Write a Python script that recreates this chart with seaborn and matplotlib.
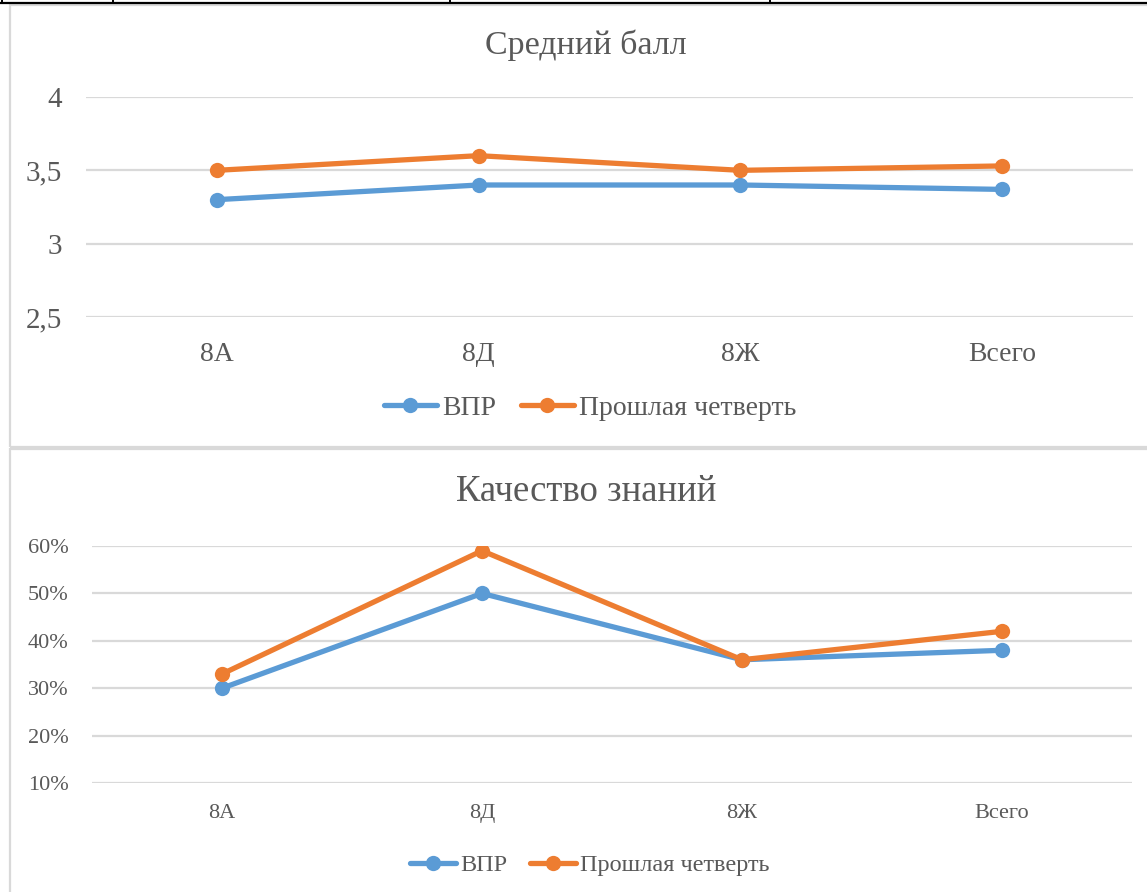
import numpy as np
import pandas as pd
import matplotlib
matplotlib.use('Agg')
import matplotlib.pyplot as plt
from matplotlib.patches import Rectangle
from matplotlib.lines import Line2D
from matplotlib.ticker import FuncFormatter
import seaborn as sns

# data
classes = ['8А', '8Д', '8Ж', 'Всего']
series = ['ВПР', 'Прошлая четверть']
avg_vpr = [3.30, 3.40, 3.40, 3.37]
avg_prev = [3.50, 3.60, 3.50, 3.53]
qual_vpr = [0.30, 0.50, 0.36, 0.38]
qual_prev = [0.33, 0.59, 0.36, 0.42]
avg_ticks = [2.5, 3, 3.5, 4]
qual_ticks = [0.1, 0.2, 0.3, 0.4, 0.5, 0.6]

colors = ['#5B9BD5', '#ED7D31']
txt = '#595959'
grid = '#D9D9D9'

sns.set_theme(style='white')
plt.rcParams['font.family'] = ['Liberation Serif', 'DejaVu Serif']

W, H = 1147, 892
fig = plt.figure(figsize=(W / 100, H / 100), dpi=100)


def px_axes(left, right, top, bottom):
    return fig.add_axes([left / W, 1 - bottom / H, (right - left) / W, (bottom - top) / H])


def long_df(a, b):
    return pd.DataFrame({'class': classes * 2,
                         'value': list(a) + list(b),
                         'series': [series[0]] * 4 + [series[1]] * 4})


def draw(ax, df, ylim, ticks, fmt, ytick_fs, xtick_fs, xpad, title, title_fs, title_y,
         leg_y, leg_fs):
    sns.lineplot(data=df, x='class', y='value', hue='series', hue_order=series,
                 palette=colors, marker='o', markersize=11, markeredgewidth=0,
                 linewidth=3.8, sort=False, legend=False, ax=ax)
    ax.set_xlim(-0.5, 3.5)
    ax.set_ylim(*ylim)
    ax.set_yticks(ticks)
    ax.yaxis.set_major_formatter(FuncFormatter(fmt))
    ax.grid(True, axis='y', color=grid, linewidth=1.6)
    ax.set_axisbelow(True)
    for s in ax.spines.values():
        s.set_visible(False)
    ax.tick_params(axis='both', length=0, colors=txt)
    ax.tick_params(axis='y', pad=17, labelsize=ytick_fs)
    ax.tick_params(axis='x', pad=xpad, labelsize=xtick_fs)
    ax.set_xlabel('')
    ax.set_ylabel('')
    fig.text(586 / W, 1 - title_y / H, title, ha='center', va='center',
             fontsize=title_fs, color=txt)
    handles = [Line2D([], [], color=c, marker='o', markersize=11, markeredgewidth=0,
                      linewidth=3.8, solid_capstyle='round') for c in colors]
    ax.legend(handles, series, loc='center', bbox_to_anchor=(590 / W, 1 - leg_y / H),
              bbox_transform=fig.transFigure, ncol=2, frameon=False,
              fontsize=leg_fs, handlelength=1.9, handletextpad=0.18,
              columnspacing=0.9, labelcolor=txt)


ax1 = px_axes(86, 1133, 97, 317)
draw(ax1, long_df(avg_vpr, avg_prev), (2.5, 4), avg_ticks,
     lambda v, p: ('%g' % v).replace('.', ','), 21, 20, 18,
     'Средний балл', 24.5, 45, 408, 20)

ax2 = px_axes(92, 1132, 546, 783)
draw(ax2, long_df(qual_vpr, qual_prev), (0.1, 0.6), qual_ticks,
     lambda v, p: '%d%%' % round(v * 100), 16, 16, 15,
     'Качество знаний', 26.5, 492, 865, 17.5)

# chart frames
fig.add_artist(Rectangle((10 / W, 1 - 447 / H), 1.0, 442 / H, transform=fig.transFigure,
                         fill=False, edgecolor=grid, linewidth=1.6))
fig.add_artist(Rectangle((10 / W, -0.1), 1.0, 0.1 + 1 - 449 / H, transform=fig.transFigure,
                         fill=False, edgecolor=grid, linewidth=1.6))

# table border fragment at the very top
fig.add_artist(Line2D([0, 1], [1 - 3 / H] * 2, transform=fig.transFigure,
                      color='black', linewidth=1.6))
for xv in [2, 113, 450, 770]:
    fig.add_artist(Line2D([xv / W] * 2, [1 - 3 / H, 1], transform=fig.transFigure,
                          color='black', linewidth=1.4))

fig.savefig('out.png', dpi=100)
